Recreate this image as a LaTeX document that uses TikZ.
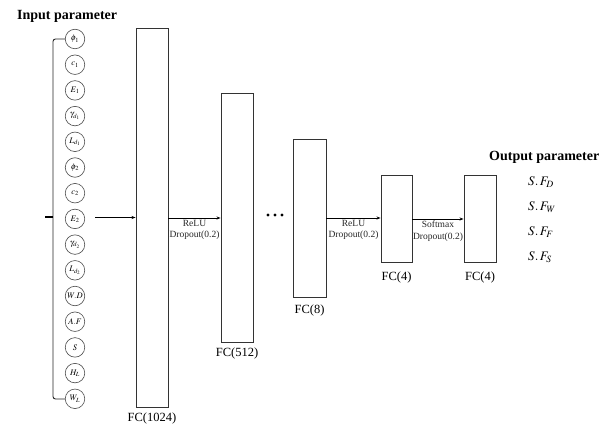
\documentclass[tikz,border=0pt]{standalone}
\usepackage{mathptmx}
\usepackage{fontspec}
\setmainfont{Liberation Serif}
\usetikzlibrary{arrows.meta}
\tikzset{
  fcbox/.style={draw=black!80, line width=0.9pt, inner sep=0pt},
  inball/.style={circle, draw=black!70, line width=0.6pt, minimum size=19.5pt, inner sep=0pt, font=\fontsize{8.5}{9}\selectfont},
  fclabel/.style={font=\fontsize{12.5}{14}\selectfont},
  actlabel/.style={font=\fontsize{9.5}{11.5}\selectfont, align=center, inner sep=0pt, anchor=north, text=black!85},
  conn/.style={draw=black, line width=0.7pt, -{Stealth[length=4pt,width=3pt]}},
  title/.style={font=\fontsize{14}{16}\selectfont\bfseries, anchor=west, inner sep=0pt},
  outlabel/.style={font=\fontsize{13}{15}\selectfont, anchor=west, inner sep=0pt}
}
\begin{document}
\begin{tikzpicture}[x=1pt,y=-1pt]
\useasboundingbox (0,0) rectangle (610,425);

\node[title] (tin) at (17,16) {Input parameter};
\node[title] (tout) at (489,157) {Output parameter};

% input circles
\foreach \lab [count=\i from 0] in {\phi_1, c_1, E_1, \gamma_{d_1}, L_{d_1}, \phi_2, c_2, E_2, \gamma_{d_2}, L_{d_2}, W.D, A.F, S, H_L, W_L}{
  \node[inball] (in\i) at (75, 39+25.7*\i) {$\lab$};
}

% bracket
\draw[black!85, line width=0.9pt, rounded corners=2.5pt] (65,39) -- (53,39) -- (53,399) -- (65,399);
\draw[black, line width=1.8pt] (53,217) -- (45,217);
\coordinate (instart) at (95,217.5);

% layer boxes
\node[fcbox, minimum width=32pt, minimum height=379pt] (b1) at (152,217.5) {};
\node[fcbox, minimum width=32pt, minimum height=249pt] (b2) at (237,217.5) {};
\node[fcbox, minimum width=33pt, minimum height=158pt] (b3) at (309.5,218) {};
\node[fcbox, minimum width=31pt, minimum height=87pt] (b4) at (396.5,218.5) {};
\node[fcbox, minimum width=32pt, minimum height=87pt] (b5) at (480,218.5) {};

\node[fclabel] (l1) at (152,418) {FC(1024)};
\node[fclabel] (l2) at (237,353) {FC(512)};
\node[fclabel] (l3) at (309.5,310) {FC(8)};
\node[fclabel] (l4) at (396.5,277) {FC(4)};
\node[fclabel] (l5) at (480,277) {FC(4)};

% connectors
\draw[conn] (instart) -- (b1.west |- instart);
\draw[conn] (b1.east |- 0,218) -- (b2.west |- 0,218);
\draw[conn] (b3.east |- 0,218) -- (b4.west |- 0,218);
\draw[conn] (b4.east |- 0,219) -- (b5.west |- 0,219);

\node[actlabel] (a1) at (194.5,220) {ReLU\\Dropout(0.2)};
\node[actlabel] (a2) at (353.5,220) {ReLU\\Dropout(0.2)};
\node[actlabel] (a3) at (438,221) {Softmax\\Dropout(0.2)};

% ellipsis dots
\foreach \xx in {268,275,282}{\fill (\xx,215) circle (1.6pt);}

% outputs
\node[outlabel] (o1) at (528,182) {$S.\,F_D$};
\node[outlabel] (o2) at (528,207) {$S.\,F_W$};
\node[outlabel] (o3) at (528,232) {$S.\,F_F$};
\node[outlabel] (o4) at (528,257) {$S.\,F_S$};
\end{tikzpicture}
\end{document}
